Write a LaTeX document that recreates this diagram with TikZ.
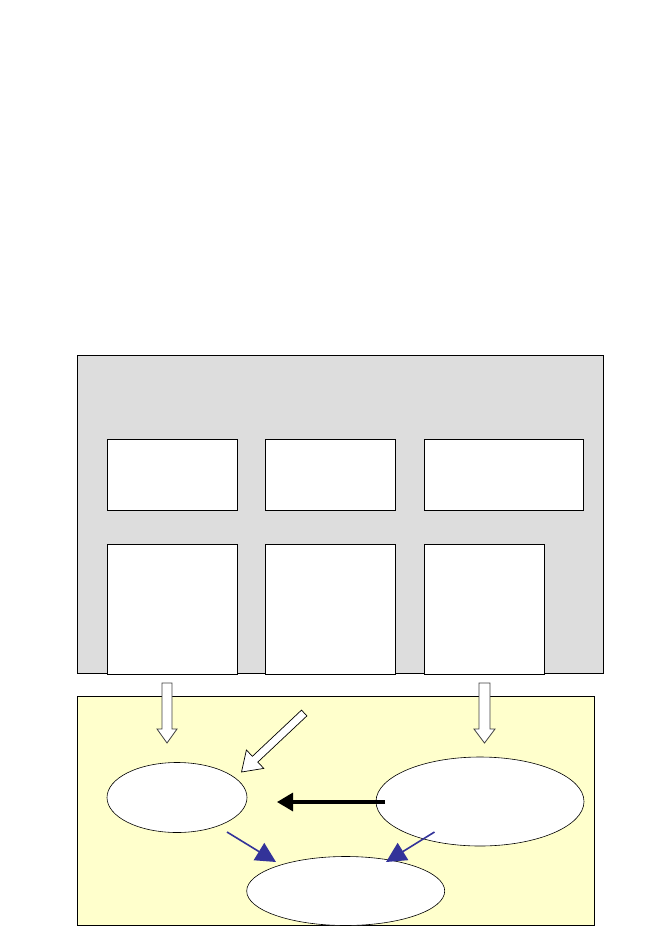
\documentclass[tikz,border=0pt]{standalone}
\usetikzlibrary{shapes.geometric,arrows.meta}
\definecolor{panelgray}{HTML}{DDDDDD}
\definecolor{paleyellow}{HTML}{FFFFCC}
\definecolor{arrowblue}{HTML}{333399}
\begin{document}
\begin{tikzpicture}[x=1pt,y=-1pt,
  cell/.style={draw=black,fill=white,line width=1pt},
  oval/.style={draw=black,fill=white,ellipse,line width=0.6pt,inner sep=0pt},
  hollow/.style={draw=black!75,fill=white,line width=0.8pt,line join=miter},
  bluearrow/.style={draw=arrowblue,line width=1.6pt,-{Triangle[length=20pt,width=20pt]}},
  blackarrow/.style={draw=black,line width=3.2pt,-{Triangle[length=16pt,width=18pt]}}]
\useasboundingbox (0,0) rectangle (655,926);
% gray panel
\draw[fill=panelgray,line width=1pt] (77,355) rectangle (603,673);
% cells
\node[cell,minimum width=130pt,minimum height=71pt,anchor=north west] (a1) at (107,439) {};
\node[cell,minimum width=130pt,minimum height=71pt,anchor=north west] (a2) at (265,439) {};
\node[cell,minimum width=159pt,minimum height=71pt,anchor=north west] (a3) at (424,439) {};
\node[cell,minimum width=130pt,minimum height=130pt,anchor=north west] (b1) at (107,544) {};
\node[cell,minimum width=130pt,minimum height=130pt,anchor=north west] (b2) at (265,544) {};
\node[cell,minimum width=120pt,minimum height=130pt,anchor=north west] (b3) at (424,544) {};
% yellow panel
\draw[fill=paleyellow,line width=1pt] (77,696) rectangle (594,925);
% hollow arrows
\draw[hollow] (162,683) -- (172,683) -- (172,729) -- (177,729) -- (167,743) -- (157,729) -- (162,729) -- cycle;
\draw[hollow] (479,683) -- (490,683) -- (490,729) -- (495,729) -- (484.5,743) -- (474,729) -- (479,729) -- cycle;
\draw[draw=black,fill=white,line width=0.7pt] (301.5,710.1) -- (306.9,715.9) -- (257.8,762.1) -- (263.8,768.4) -- (241.5,772) -- (246.4,750) -- (252.4,756.3) -- cycle;
% ovals
\node[oval,minimum width=140pt,minimum height=70pt] (e1) at (177,797.5) {};
\node[oval,minimum width=208pt,minimum height=89pt] (e2) at (480,801.5) {};
\node[oval,minimum width=198pt,minimum height=69pt] (e3) at (345.7,891) {};
% connectors
\coordinate (bs) at (385,802);
\coordinate (be) at (277,802);
\draw[blackarrow] (bs) -- (be);
\coordinate (l1) at (227,832);
\coordinate (l2) at (276,862);
\coordinate (r1) at (434.5,832);
\coordinate (r2) at (386,862);
\draw[bluearrow] (l1) -- (l2);
\draw[bluearrow] (r1) -- (r2);
\end{tikzpicture}
\end{document}
